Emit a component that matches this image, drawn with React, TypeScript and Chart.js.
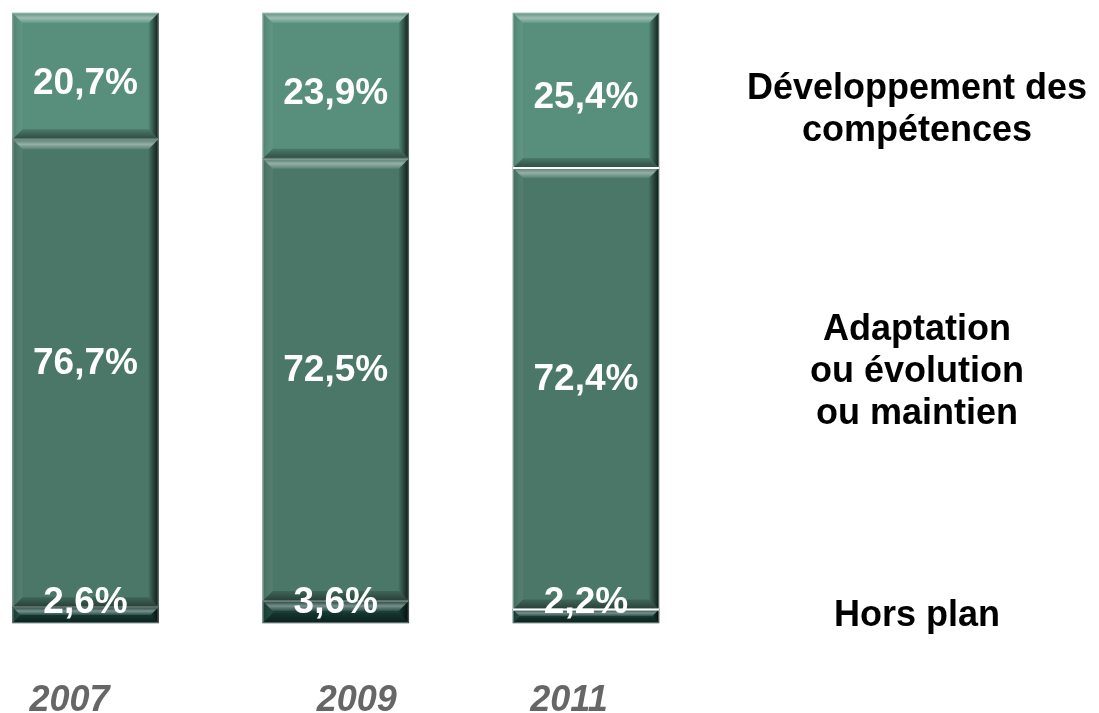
import React, { useEffect, useRef } from "react";
import { Chart, registerables } from "chart.js";

Chart.register(...registerables);

// ---- data ----
const years = ["2007", "2009", "2011"];
const horsPlan = [2.6, 3.6, 2.2];
const adaptation = [76.7, 72.5, 72.4];
const developpement = [20.7, 23.9, 25.4];

const labelDeveloppement = ["Développement des", "compétences"];
const labelAdaptation = ["Adaptation", "ou évolution", "ou maintien"];
const labelHorsPlan = ["Hors plan"];

const FONT = '"Liberation Sans", Arial, Helvetica, sans-serif';

const fmt = (v: number) => v.toFixed(1).replace(".", ",") + "%";

const bevelPlugin = {
  id: "bevelAndLabels",
  afterDatasetsDraw(chart: any) {
    const ctx: CanvasRenderingContext2D = chart.ctx;
    const area = chart.chartArea;
    const rects: any[] = [];
    chart.data.datasets.forEach((ds: any, di: number) => {
      const meta = chart.getDatasetMeta(di);
      meta.data.forEach((el: any, i: number) => {
        const p = el.getProps(["x", "y", "base", "width"], true);
        const x0 = p.x - p.width / 2;
        const x1 = p.x + p.width / 2;
        const y0 = Math.min(p.y, p.base);
        const y1 = Math.max(p.y, p.base);
        rects.push({ di, i, x0, x1, y0, y1, cx: p.x, v: ds.data[i] });
      });
    });

    ctx.save();
    // bevels
    rects.forEach((r) => {
      const { x0, x1, y0, y1 } = r;
      const h = y1 - y0;
      const b = Math.min(10, h / 2);
      // top
      let g = ctx.createLinearGradient(0, y0, 0, y0 + b);
      g.addColorStop(0, "rgba(255,255,255,0.04)");
      g.addColorStop(0.5, "rgba(255,255,255,0.42)");
      g.addColorStop(1, "rgba(255,255,255,0.08)");
      ctx.fillStyle = g;
      ctx.beginPath();
      ctx.moveTo(x0, y0);
      ctx.lineTo(x1, y0);
      ctx.lineTo(x1 - b, y0 + b);
      ctx.lineTo(x0 + b, y0 + b);
      ctx.closePath();
      ctx.fill();
      // bottom
      g = ctx.createLinearGradient(0, y1 - b, 0, y1);
      g.addColorStop(0, "rgba(0,0,0,0.15)");
      g.addColorStop(1, "rgba(0,0,0,0.48)");
      ctx.fillStyle = g;
      ctx.beginPath();
      ctx.moveTo(x0, y1);
      ctx.lineTo(x1, y1);
      ctx.lineTo(x1 - b, y1 - b);
      ctx.lineTo(x0 + b, y1 - b);
      ctx.closePath();
      ctx.fill();
      // left
      g = ctx.createLinearGradient(x0, 0, x0 + b, 0);
      g.addColorStop(0, "rgba(0,0,0,0.1)");
      g.addColorStop(1, "rgba(255,255,255,0.05)");
      ctx.fillStyle = g;
      ctx.beginPath();
      ctx.moveTo(x0, y0);
      ctx.lineTo(x0 + b, y0 + b);
      ctx.lineTo(x0 + b, y1 - b);
      ctx.lineTo(x0, y1);
      ctx.closePath();
      ctx.fill();
      // right
      g = ctx.createLinearGradient(x1 - b, 0, x1, 0);
      g.addColorStop(0, "rgba(0,0,0,0.05)");
      g.addColorStop(1, "rgba(0,0,0,0.8)");
      ctx.fillStyle = g;
      ctx.beginPath();
      ctx.moveTo(x1, y0);
      ctx.lineTo(x1 - b, y0 + b);
      ctx.lineTo(x1 - b, y1 - b);
      ctx.lineTo(x1, y1);
      ctx.closePath();
      ctx.fill();
      // thin outline
      ctx.strokeStyle = "rgba(200,208,204,0.4)";
      ctx.lineWidth = 1;
      ctx.strokeRect(x0 + 0.5, y0 + 0.5, x1 - x0 - 1, h - 1);
    });

    // white separators on the last bar
    rects
      .filter((r) => r.i === years.length - 1 && r.di > 0)
      .forEach((r) => {
        ctx.strokeStyle = "#ffffff";
        ctx.lineWidth = 2;
        ctx.beginPath();
        ctx.moveTo(r.x0, r.y1);
        ctx.lineTo(r.x1, r.y1);
        ctx.stroke();
      });

    // value labels
    ctx.font = `bold 37px ${FONT}`;
    ctx.fillStyle = "#ffffff";
    ctx.textAlign = "center";
    ctx.textBaseline = "alphabetic";
    rects.forEach((r) => {
      const mid = (r.y0 + r.y1) / 2;
      let baseline;
      if (r.di === 0) baseline = area.bottom - 10;
      else if (r.di === 1) baseline = mid + 1;
      else baseline = mid + 18;
      ctx.fillText(fmt(r.v), r.cx, baseline);
    });

    // year labels
    const xs = chart.scales.x;
    const yearShift = [-16, 21, -17];
    ctx.font = `italic bold 36px ${FONT}`;
    ctx.fillStyle = "#666666";
    years.forEach((yr, i) => {
      ctx.fillText(yr, xs.getPixelForValue(i) + yearShift[i], chart.height - 2);
    });

    // series labels on the right
    ctx.font = `bold 36px ${FONT}`;
    ctx.fillStyle = "#000000";
    const cx = area.right + 331;
    const groups: [string[], number][] = [
      [labelDeveloppement, 99],
      [labelAdaptation, 340],
      [labelHorsPlan, 626],
    ];
    groups.forEach(([lines, first]) => {
      lines.forEach((t, k) => ctx.fillText(t, cx, first + k * 42));
    });
    ctx.restore();
  },
};

export default function App() {
  const ref = useRef<HTMLCanvasElement | null>(null);
  useEffect(() => {
    document.body.style.margin = "0";
    const canvas = ref.current!;
    const chart = new Chart(canvas, {
      type: "bar",
      data: {
        labels: years,
        datasets: [
          { label: "Hors plan", data: horsPlan, backgroundColor: "#173f36", clip: false as any },
          { label: "Adaptation ou évolution ou maintien", data: adaptation, backgroundColor: "#4a7767", clip: false as any },
          { label: "Développement des compétences", data: developpement, backgroundColor: "#578f7c", clip: false as any },
        ],
      },
      options: {
        animation: false,
        responsive: false,
        layout: { padding: { left: 85.5, right: 513, top: 13, bottom: 90 } },
        datasets: { bar: { barThickness: 146 } } as any,
        plugins: { legend: { display: false }, tooltip: { enabled: false } },
        scales: {
          x: { display: false, stacked: true, offset: false, grid: { display: false } },
          y: { display: false, stacked: true, min: 0, max: 100, grid: { display: false } },
        },
      },
      plugins: [bevelPlugin],
    });
    return () => chart.destroy();
  }, []);
  return (
    <div style={{ width: 1099, height: 713 }}>
      <canvas ref={ref} width={1099} height={713} style={{ display: "block" }} />
    </div>
  );
}
